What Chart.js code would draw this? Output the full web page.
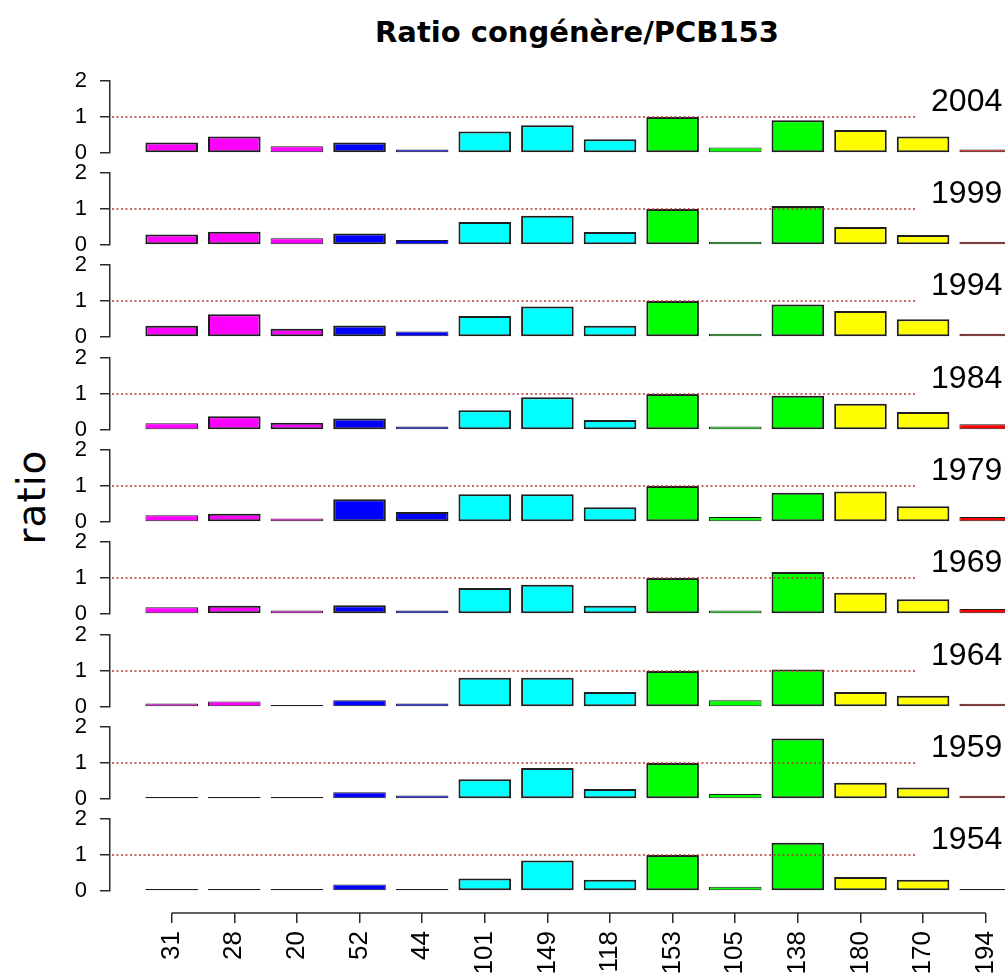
<!DOCTYPE html>
<html>
<head>
<meta charset="utf-8">
<script src="https://cdn.jsdelivr.net/npm/chart.js@4/dist/chart.umd.min.js"></script>
<style>
  html, body { margin: 0; padding: 0; background: #fff; overflow: hidden; }
  #wrap { position: relative; width: 1005px; height: 974px; overflow: hidden; background: #fff; }
  #wrap canvas { position: absolute; left: 0; }
  #title {
    position: absolute; top: 18px; left: 577px; transform: translateX(-50%);
    font: bold 29px "DejaVu Sans"; line-height: 29px; white-space: nowrap; color: #000;
  }
  #ylab {
    position: absolute; left: 31px; top: 497px; transform: translate(-50%, -50%) rotate(-90deg);
    font: 39px "DejaVu Sans"; line-height: 39px; letter-spacing: 1px; white-space: nowrap; color: #000;
  }
</style>
</head>
<body>
<div id="wrap">
  <div id="title">Ratio congénère/PCB153</div>
  <div id="ylab">ratio</div>
</div>
<script>
// congeners on the x axis, one colour per family
const congeners = ['31', '28', '20', '52', '44', '101', '149', '118', '153', '105', '138', '180', '170', '194'];
const barColors = ['#FF00FF', '#FF00FF', '#FF00FF', '#0000FF', '#0000FF', '#00FFFF', '#00FFFF', '#00FFFF',
                   '#00FF00', '#00FF00', '#00FF00', '#FFFF00', '#FFFF00', '#FF0000'];
const years = ['2004', '1999', '1994', '1984', '1979', '1969', '1964', '1959', '1954'];
const yTicks = [0, 1, 2];

// ratio congener / PCB153 for each core slice
const r2004 = [0.29, 0.46, 0.19, 0.29, 0.10, 0.60, 0.77, 0.38, 1.00, 0.15, 0.91, 0.64, 0.46, 0.10];
const r1999 = [0.29, 0.37, 0.19, 0.32, 0.14, 0.64, 0.81, 0.36, 1.00, 0.09, 1.08, 0.50, 0.28, 0.09];
const r1994 = [0.31, 0.63, 0.23, 0.32, 0.15, 0.58, 0.85, 0.31, 1.00, 0.09, 0.90, 0.72, 0.49, 0.09];
const r1984 = [0.19, 0.38, 0.20, 0.32, 0.10, 0.55, 0.91, 0.28, 1.00, 0.10, 0.95, 0.73, 0.50, 0.16];
const r1979 = [0.19, 0.23, 0.10, 0.63, 0.28, 0.77, 0.77, 0.41, 1.00, 0.14, 0.81, 0.85, 0.44, 0.14];
const r1969 = [0.19, 0.23, 0.10, 0.24, 0.10, 0.72, 0.81, 0.23, 1.00, 0.10, 1.17, 0.59, 0.41, 0.14];
const r1964 = [0.10, 0.15, 0.05, 0.19, 0.10, 0.81, 0.81, 0.42, 1.00, 0.19, 1.04, 0.42, 0.31, 0.09];
const r1959 = [0.05, 0.05, 0.05, 0.19, 0.10, 0.55, 0.86, 0.28, 1.00, 0.14, 1.68, 0.45, 0.32, 0.09];
const r1954 = [0.01, 0.04, 0.01, 0.18, 0.04, 0.35, 0.85, 0.31, 1.00, 0.12, 1.34, 0.39, 0.31, 0.03];

const series = [r2004, r1999, r1994, r1984, r1979, r1969, r1964, r1959, r1954];

// shared horizontal scale: plot area runs from the y axis to past the right edge
const X_MIN = -0.985;
const X_MAX = 13.867;
const CANVAS_W = 1060;
const PAD_R = 20;

const axisColor = '#2a2a2a';
const tickFont = { family: 'Liberation Sans, Arial, sans-serif', size: 22 };

function noPad(s) {
  s.paddingTop = 0;
  s.paddingBottom = 0;
  s.paddingLeft = 0;
  s.paddingRight = 0;
}

function xScale(show) {
  return {
    type: 'linear',
    min: X_MIN,
    max: X_MAX,
    offset: false,
    display: show,
    afterBuildTicks: s => { s.ticks = congeners.map((c, i) => ({ value: i })); },
    afterFit: s => { noPad(s); if (show) s.height = 87; },
    border: { display: false },
    grid: { display: true, offset: false, drawOnChartArea: false, drawTicks: true, tickLength: 10, color: axisColor, lineWidth: 1.5 },
    ticks: {
      autoSkip: false, minRotation: 90, maxRotation: 90, padding: 8, color: '#000',
      font: { family: 'Liberation Sans, Arial, sans-serif', size: 26 },
      callback: v => congeners[v]
    }
  };
}

// dotted reference at ratio = 1 and the year tag of each panel
const panelDecor = {
  id: 'panelDecor',
  afterDatasetsDraw(chart, args, opts) {
    const { ctx, chartArea, scales: { x, y } } = chart;
    const yy = y.getPixelForValue(1);
    ctx.save();
    ctx.strokeStyle = '#b53535';
    ctx.lineWidth = 1.6;
    ctx.setLineDash([2, 2.5]);
    ctx.beginPath();
    ctx.moveTo(chartArea.left + 2, yy);
    ctx.lineTo(x.getPixelForValue(11.9), yy);
    ctx.stroke();
    ctx.restore();
  },
  afterDraw(chart, args, opts) {
    const { ctx, scales: { x, y } } = chart;
    ctx.save();
    ctx.fillStyle = '#000';
    ctx.font = '32px "Liberation Sans", Arial, sans-serif';
    ctx.textAlign = 'left';
    ctx.textBaseline = 'middle';
    ctx.fillText(opts.year, x.getPixelForValue(12.127), y.getPixelForValue(1.42));
    ctx.restore();
  }
};

// x axis line only spans first to last tick
const axisLine = {
  id: 'axisLine',
  afterDraw(chart) {
    const { ctx, chartArea, scales: { x } } = chart;
    ctx.save();
    ctx.strokeStyle = axisColor;
    ctx.lineWidth = 1.5;
    ctx.beginPath();
    ctx.moveTo(x.getPixelForValue(0), chartArea.bottom);
    ctx.lineTo(x.getPixelForValue(congeners.length - 1), chartArea.bottom);
    ctx.stroke();
    ctx.restore();
  }
};

const wrap = document.getElementById('wrap');

function addCanvas(top, height) {
  const c = document.createElement('canvas');
  c.width = CANVAS_W;
  c.height = height;
  c.style.top = top + 'px';
  c.style.width = CANVAS_W + 'px';
  c.style.height = height + 'px';
  wrap.appendChild(c);
  return c;
}

const PAD_T = 14;
const UNIT = 36;  // px per ratio unit

years.forEach((year, k) => {
  const zero = Math.round(152.7 + 92.3 * k);
  const cv = addCanvas(zero - 2 * UNIT - PAD_T, 2 * UNIT + 2 * PAD_T);
  new Chart(cv, {
    type: 'bar',
    data: {
      datasets: [{
        data: series[k].map((v, i) => ({ x: i, y: v })),
        backgroundColor: barColors,
        borderColor: '#1e1e1e',
        // thin outline on the very short bars so their fill still shows
        borderWidth: c => (c.raw && c.raw.y < 0.2 ? 1 : 2),
        borderSkipped: false,
        barPercentage: 0.84,
        categoryPercentage: 1,
        minBarLength: 2
      }]
    },
    options: {
      responsive: false,
      animation: false,
      devicePixelRatio: 1,
      layout: { padding: { top: PAD_T, bottom: PAD_T, left: 0, right: PAD_R } },
      plugins: {
        legend: { display: false },
        tooltip: { enabled: false },
        panelDecor: { year: year }
      },
      scales: {
        x: xScale(false),
        y: {
          min: 0, max: 2,
          afterFit: s => { noPad(s); s.width = 110; },
          afterBuildTicks: s => { s.ticks = yTicks.map(v => ({ value: v })); },
          border: { display: true, color: axisColor, width: 1.5 },
          grid: { display: true, drawOnChartArea: false, drawTicks: true, tickLength: 10, color: axisColor, lineWidth: 1.5 },
          ticks: { padding: 13, color: '#000', font: tickFont }
        }
      }
    },
    plugins: [panelDecor]
  });
});

// bottom axis with the congener labels
const axCanvas = addCanvas(880, 120);
new Chart(axCanvas, {
  type: 'bar',
  data: { datasets: [{ data: [] }] },
  options: {
    responsive: false,
    animation: false,
    devicePixelRatio: 1,
    layout: { padding: { top: 0, bottom: 0, left: 110, right: PAD_R } },
    plugins: { legend: { display: false }, tooltip: { enabled: false } },
    scales: {
      x: xScale(true),
      y: { display: false }
    }
  },
  plugins: [axisLine]
});
</script>
</body>
</html>
